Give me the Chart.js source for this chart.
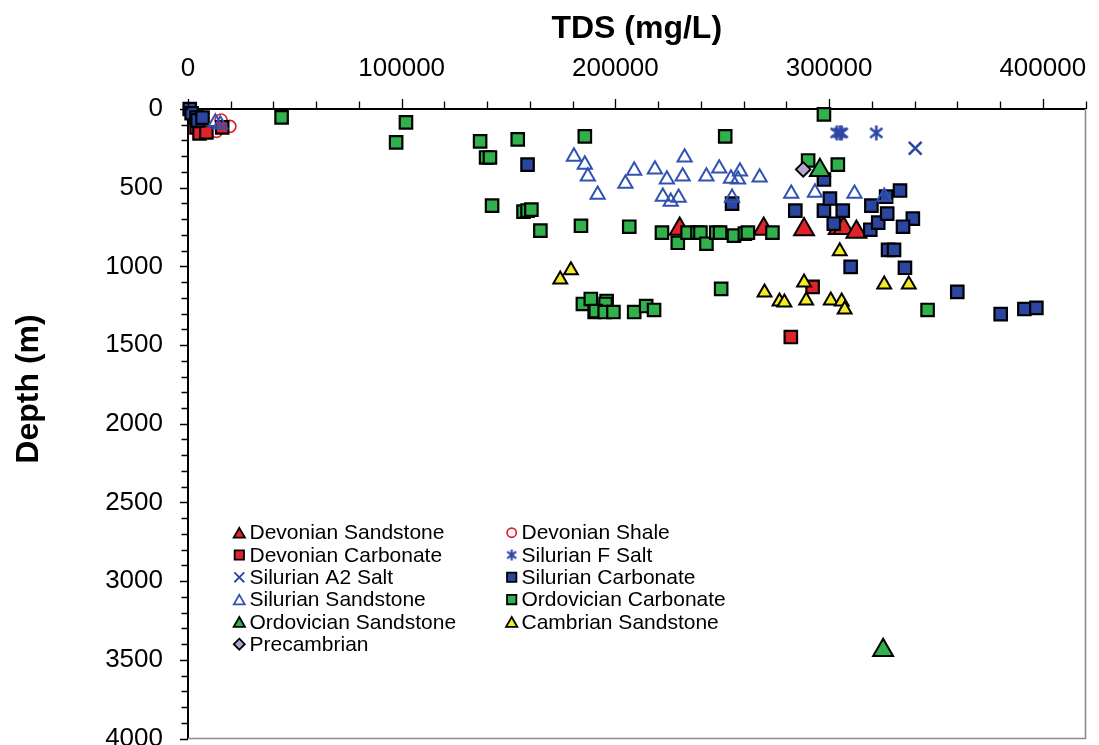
<!DOCTYPE html>
<html>
<head>
<meta charset="utf-8">
<script src="https://cdn.jsdelivr.net/npm/chart.js@4.4.1/dist/chart.umd.min.js"></script>
<style>
html,body{margin:0;padding:0;background:#fff;overflow:hidden;width:1099px;height:745px}
#wrap{width:1099px;height:745px;position:relative;overflow:hidden}
</style>
</head>
<body>
<div id="wrap"><canvas id="c" width="1099" height="752"></canvas></div>
<script>
// ---------- DATA (TDS mg/L, depth m) ----------
const xTickValues = [0, 100000, 200000, 300000, 400000];
const yTickValues = [0, 500, 1000, 1500, 2000, 2500, 3000, 3500, 4000];

const seriesNames = [
  'Devonian Sandstone', 'Devonian Shale',
  'Devonian Carbonate', 'Silurian F Salt',
  'Silurian A2 Salt', 'Silurian Carbonate',
  'Silurian Sandstone', 'Ordovician Carbonate',
  'Ordovician Sandstone', 'Cambrian Sandstone',
  'Precambrian'
];

const devonianSandstone = [[230100,763],[269400,763],[288300,766],[304500,757],[306800,757],[312800,782]];
const devonianShale = [[15500,70],[19600,110],[13300,142]];
const devonianCarbonate = [[4000,117],[5400,155],[8600,149],[16000,117],[292300,1130],[282100,1449]];
const silurianFSalt = [[303600,152],[305000,152],[305900,152],[322100,152]];
const silurianA2Salt = [[340300,249]];
const silurianCarbonate = [
  [800,0],[1700,27],[4000,55],[4500,72],[6800,55],
  [158900,353],[254600,601],[284200,646],[297600,448],[297600,646],[300400,569],
  [302200,729],[306400,646],[319800,614],[319300,767],[323000,722],[326700,557],
  [327200,665],[333200,518],[339200,697],[334600,748],[327600,895],[330400,895],
  [335500,1009],[310100,1003],[360000,1162],[380300,1303],[391400,1271],[397000,1264]
];
const silurianSandstone = [
  [12800,85],[15100,98],
  [180600,302],[185700,353],[187100,429],[191700,544],[204700,474],[208800,391],
  [218500,384],[224100,448],[232400,308],[231500,429],[242600,429],[248600,378],
  [254100,442],[258300,397],[257400,448],[267500,435],[222200,557],[225900,589],
  [229600,563],[254600,563],[282300,538],[293400,531],[311900,538],[325800,557]
];
const ordovicianCarbonate = [
  [43800,53],[102000,85],[97400,212],[136700,206],[154300,193],[185700,174],[251400,174],
  [139500,308],[141300,308],[142300,614],[157000,652],[158900,646],[160700,639],
  [164900,773],[183900,742],[206500,748],[221800,786],[229200,850],[233800,786],
  [238400,786],[239800,786],[242600,856],[247200,786],[249000,786],[255500,805],
  [260600,792],[262000,786],[273500,786],[297600,34],[290200,327],[304100,353],
  [249500,1143],[346100,1277],[184800,1239],[188500,1207],[195900,1220],[195400,1239],
  [190300,1290],[190800,1284],[195000,1290],[199100,1290],[208800,1290],[214400,1252],
  [218100,1277]
];
const ordovicianSandstone = [[295700,389],[325300,3440]];
const cambrianSandstone = [
  [174200,1083],[179200,1025],[269800,1166],[276800,1223],[279100,1229],[288300,1102],
  [289300,1217],[300800,1217],[305900,1223],[307300,1274],[305000,904],[325800,1115],
  [337300,1115]
];
const precambrian = [[287900,384]];

// ---------- STYLES ----------
const RED = '#e0232b', BLUE = '#2a46a1', OPENBLUE = '#3152b3', GREEN = '#30b14c',
      YELLOW = '#f4ea26', PURPLE = '#b9a3d1', XBLUE = '#2c46a6';
const FONT = "'Liberation Sans', Arial, Helvetica, sans-serif";

function makeAsterisk(size, color, lw) {
  const c = document.createElement('canvas');
  c.width = size; c.height = size;
  const g = c.getContext('2d');
  g.strokeStyle = color; g.lineWidth = lw; g.lineCap = 'butt';
  const m = size / 2, r = size / 2 - 1;
  g.beginPath();
  g.moveTo(m, m - r); g.lineTo(m, m + r);
  const dx = r * 0.82, dy = r * 0.62;
  g.moveTo(m - dx, m - dy); g.lineTo(m + dx, m + dy);
  g.moveTo(m - dx, m + dy); g.lineTo(m + dx, m - dy);
  g.stroke();
  return c;
}
const asteriskImg = makeAsterisk(17, XBLUE, 2.5);
const asteriskLegendImg = makeAsterisk(13, XBLUE, 2.1);

// style spec per series: [style, radius, fill, stroke, lineWidth, legendRadius]
const seriesStyles = [
  ['triangle', 11.5, RED, '#000', 2, 6.5],
  ['circle', 6, 'rgba(0,0,0,0)', RED, 1.7, 4.6],
  ['rect', 8.8, RED, '#000', 2.2, 6.6],
  ['asterisk', 8, null, XBLUE, 2.5, 6],
  ['crossRot', 9, null, XBLUE, 2.6, 7],
  ['rect', 8.8, BLUE, '#000', 2.2, 6.6],
  ['triangle', 8.2, 'rgba(0,0,0,0)', OPENBLUE, 2, 6.3],
  ['rect', 8.8, GREEN, '#000', 2.2, 6.6],
  ['triangle', 11.5, GREEN, '#000', 2, 6.5],
  ['triangle', 8, YELLOW, '#000', 2, 6.5],
  ['rectRot', 7.3, PURPLE, '#000', 1.9, 5.5]
];
const seriesData = [devonianSandstone, devonianShale, devonianCarbonate, silurianFSalt,
  silurianA2Salt, silurianCarbonate, silurianSandstone, ordovicianCarbonate,
  ordovicianSandstone, cambrianSandstone, precambrian];

const N = seriesNames.length;
const datasets = seriesNames.map((name, i) => {
  const [st, r, fill, stroke, lw] = seriesStyles[i];
  return {
    label: name,
    data: seriesData[i].map(p => ({x: p[0], y: p[1]})),
    showLine: false,
    clip: false,
    order: N - i,
    pointStyle: st === 'asterisk' ? asteriskImg : st,
    pointRadius: r,
    pointHoverRadius: r,
    pointBackgroundColor: fill || 'rgba(0,0,0,0)',
    pointBorderColor: stroke,
    pointBorderWidth: lw,
    pointHoverBorderWidth: lw
  };
});

function drawMarker(ctx, st, x, y, r, fill, stroke, lw) {
  ctx.save();
  if (st === 'asterisk') {
    ctx.drawImage(asteriskLegendImg, x - asteriskLegendImg.width / 2, y - asteriskLegendImg.height / 2);
    ctx.restore();
    return;
  }
  ctx.lineWidth = lw;
  ctx.strokeStyle = stroke;
  ctx.fillStyle = fill || 'rgba(0,0,0,0)';
  ctx.beginPath();
  if (st === 'triangle') {
    ctx.moveTo(x, y - r);
    ctx.lineTo(x + 0.866 * r, y + r / 2);
    ctx.lineTo(x - 0.866 * r, y + r / 2);
    ctx.closePath();
  } else if (st === 'circle') {
    ctx.arc(x, y, r, 0, Math.PI * 2);
  } else if (st === 'rect') {
    const s = r * Math.SQRT1_2;
    ctx.rect(x - s, y - s, 2 * s, 2 * s);
  } else if (st === 'rectRot') {
    ctx.moveTo(x, y - r); ctx.lineTo(x + r, y); ctx.lineTo(x, y + r); ctx.lineTo(x - r, y);
    ctx.closePath();
  } else if (st === 'crossRot') {
    const s = r * Math.SQRT1_2;
    ctx.moveTo(x - s, y - s); ctx.lineTo(x + s, y + s);
    ctx.moveTo(x - s, y + s); ctx.lineTo(x + s, y - s);
  }
  if (fill && st !== 'crossRot') ctx.fill();
  ctx.stroke();
  ctx.restore();
}

const decorPlugin = {
  id: 'decor',
  afterDraw(chart) {
    const ctx = chart.ctx, xs = chart.scales.x, ys = chart.scales.y, a = chart.chartArea;
    ctx.save();
    // gray frame on right & bottom
    ctx.strokeStyle = '#8c8c8c';
    ctx.lineWidth = 1.6;
    ctx.beginPath();
    ctx.moveTo(a.right, a.top); ctx.lineTo(a.right, a.bottom); ctx.lineTo(a.left, a.bottom);
    ctx.stroke();
    // tick marks
    ctx.strokeStyle = '#000';
    ctx.lineWidth = 1.3;
    ctx.beginPath();
    for (let v = 0; v <= 420000; v += 20000) {
      const px = Math.round(xs.getPixelForValue(v)) + 0.5;
      const len = v % 100000 === 0 ? 10 : 7.5;
      ctx.moveTo(px, a.top); ctx.lineTo(px, a.top - len);
    }
    for (let v = 0; v <= 4000; v += 100) {
      const py = Math.round(ys.getPixelForValue(v)) + 0.5;
      const len = v % 500 === 0 ? 8 : 6.5;
      ctx.moveTo(a.left, py); ctx.lineTo(a.left - len, py);
    }
    ctx.stroke();
    // y axis title
    ctx.save();
    ctx.translate(29, 389);
    ctx.rotate(-Math.PI / 2);
    ctx.font = 'bold 32px ' + FONT;
    ctx.fillStyle = '#000';
    ctx.textAlign = 'center';
    ctx.textBaseline = 'middle';
    ctx.fillText('Depth (m)', 0, 0);
    ctx.restore();
    // legend (two columns, inside plot)
    ctx.font = '21px ' + FONT;
    ctx.fillStyle = '#000';
    ctx.textAlign = 'left';
    ctx.textBaseline = 'middle';
    seriesNames.forEach((name, i) => {
      const row = Math.floor(i / 2), col = i % 2;
      const y = 532.7 + row * 22.3;
      const mx = col ? 511.7 : 239.3;
      const tx = col ? 521.5 : 249.5;
      const [st, , fill, stroke, lw, lr] = seriesStyles[i];
      let my = y;
      if (st === 'triangle') my = y + lr * 0.25;
      drawMarker(ctx, st, mx, my, lr, fill, stroke, Math.min(lw, 1.8));
      ctx.fillStyle = '#000';
      ctx.fillText(name, tx, y + 1);
    });
    ctx.restore();
  }
};

new Chart(document.getElementById('c'), {
  type: 'scatter',
  data: { datasets },
  options: {
    responsive: false,
    animation: false,
    events: [],
    layout: { padding: { left: 0, top: 0, right: 2, bottom: 0 } },
    plugins: { legend: { display: false }, tooltip: { enabled: false } },
    scales: {
      x: {
        type: 'linear',
        position: 'top',
        min: 0,
        max: 420000,
        grid: { display: false, drawTicks: false },
        border: { display: true, color: '#000', width: 2 },
        afterBuildTicks: s => { s.ticks = xTickValues.map(v => ({ value: v })); },
        ticks: {
          color: '#000',
          font: { family: FONT, size: 26 },
          padding: 25,
          maxRotation: 0,
          autoSkip: false,
          callback: v => String(v)
        },
        title: {
          display: true,
          text: 'TDS (mg/L)',
          color: '#000',
          font: { family: FONT, size: 32, weight: 'bold' },
          padding: { top: 10, bottom: 0 }
        },
        afterFit: s => { s.height = 109; s.paddingLeft = 0; s.paddingRight = 0; }
      },
      y: {
        type: 'linear',
        position: 'left',
        reverse: true,
        min: 0,
        max: 4000,
        grid: { display: false, drawTicks: false },
        border: { display: true, color: '#000', width: 2 },
        afterBuildTicks: s => { s.ticks = yTickValues.map(v => ({ value: v })); },
        ticks: {
          color: '#000',
          font: { family: FONT, size: 26 },
          padding: 25,
          autoSkip: false,
          callback: v => String(v)
        },
        title: { display: false },
        afterFit: s => { s.width = 188; s.paddingTop = 0; s.paddingBottom = 0; }
      }
    }
  },
  plugins: [decorPlugin]
});
</script>
</body>
</html>
